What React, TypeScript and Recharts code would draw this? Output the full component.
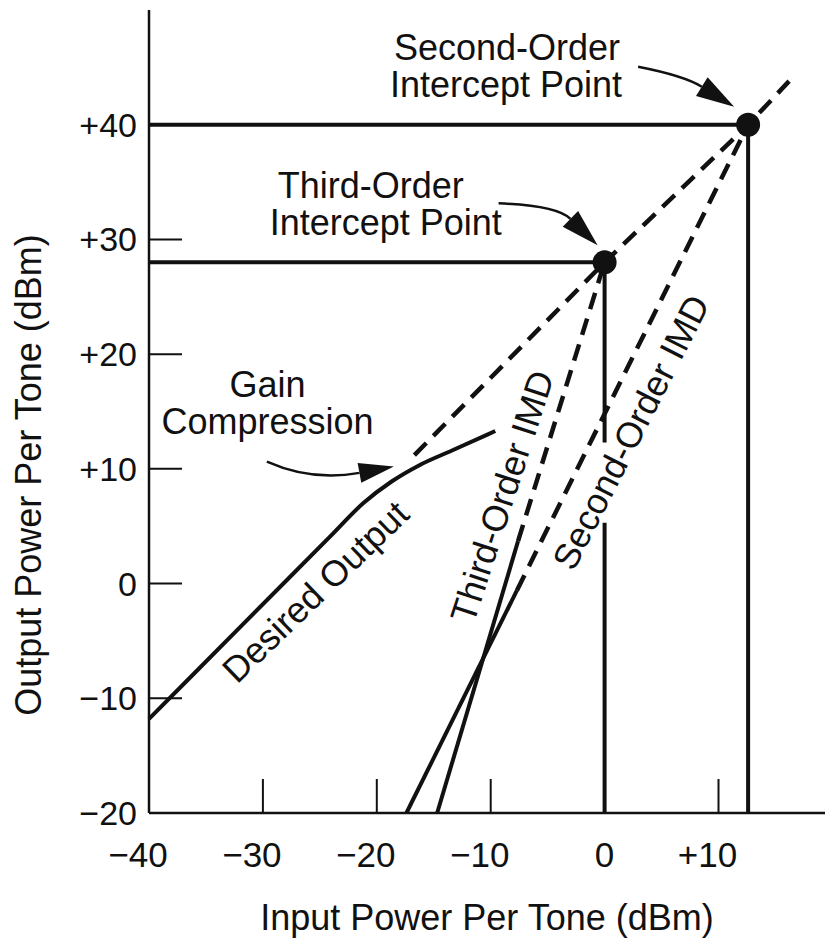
import { ComposedChart, Line, XAxis, YAxis, ReferenceDot } from 'recharts'

const FONT = '"Liberation Sans", Arial, Helvetica, sans-serif'
const INK = '#111'

// axis ticks (dBm)
const xTicks = [-40, -30, -20, -10, 0, 10]
const yTicks = [-20, -10, 0, 10, 20, 30, 40]

// desired output: 1:1 slope, then gain compression above about -20 dBm
const desiredOutput = [
  { x: -40, y: -11.8 },
  { x: -32, y: -3.8 },
  { x: -24, y: 4.2 },
  { x: -21.2, y: 7.0 },
  { x: -18.7, y: 8.9 },
  { x: -16.3, y: 10.3 },
  { x: -13.4, y: 11.6 },
  { x: -9.6, y: 13.3 },
]
const desiredExtrapolated = [
  { x: -16.7, y: 11.2 },
  { x: 0, y: 28 },
  { x: 12.6, y: 40 },
  { x: 16.2, y: 43.8 },
]

const thirdOrderImd = [
  { x: -14.7, y: -20 },
  { x: -7.6, y: 3.7 },
]
const thirdOrderExtrapolated = [
  { x: -7.6, y: 3.7 },
  { x: 0, y: 28 },
]
const secondOrderImd = [
  { x: -17.4, y: -20 },
  { x: -7.7, y: -0.6 },
]
const secondOrderExtrapolated = [
  { x: -7.7, y: -0.6 },
  { x: 12.6, y: 40 },
]

// intercept points (IP3, IP2) and their guide lines
const intercepts = [
  { x: 0, y: 28 },
  { x: 12.6, y: 40 },
]
const ip3Guide = [
  { x: -40, y: 28 },
  { x: 0, y: 28 },
  { x: 0, y: 12.3 },
]
const ip3Drop = [
  { x: 0, y: 5.3 },
  { x: 0, y: -20 },
]
const ip2Guide = [
  { x: -40, y: 40 },
  { x: 12.6, y: 40 },
  { x: 12.6, y: -20 },
]

// annotation text, anchored in data units
const notes = [
  { x: -18.5, y: 45.6, lines: ['Second-Order', 'Intercept Point'], dxs: [0, -4], anchor: 'start' },
  { x: -28.7, y: 33.6, lines: ['Third-Order', 'Intercept Point'], dxs: [0, -8], anchor: 'start' },
  { x: -29.6, y: 16.3, lines: ['Gain', 'Compression'], dxs: [0, 0], anchor: 'middle' },
]
const slantedNotes = [
  { x: -25.4, y: -0.7, text: 'Desired Output', angle: -44 },
  { x: -9.0, y: 7.6, text: 'Third-Order IMD', angle: -72 },
  { x: 2.3, y: 13.2, text: 'Second-Order IMD', angle: -63 },
]
const arrows = [
  { x: 12.6, y: 40, from: [-110, -58], ctrl: [-64, -49], tip: [-14, -18], head: 38 },
  { x: 0, y: 28, from: [-106, -59], ctrl: [-48, -57], tip: [-7, -17], head: 38 },
  { x: -18.5, y: 10.2, from: [-127, -5], ctrl: [-82, 15], tip: [0, 0], head: 35 },
]

const fmt = (v: number) => (v > 0 ? `+${v}` : v < 0 ? `\u2212${-v}` : '0')

function YTick(props: any) {
  const { x, y, payload } = props
  return (
    <g>
      <line x1={x} x2={x + 33} y1={y} y2={y} stroke={INK} strokeWidth={2} />
      <text x={x - 12} y={y + 12} textAnchor="end" fontSize={34} fontFamily={FONT} fill={INK}>
        {fmt(payload.value)}
      </text>
    </g>
  )
}

function XTick(props: any) {
  const { x, y, payload } = props
  const v = payload.value
  return (
    <g>
      <line x1={x} x2={x} y1={y} y2={y - 34} stroke={INK} strokeWidth={2} />
      <text x={x + (v === 0 ? 0 : -11)} y={y + 54} textAnchor="middle" fontSize={35} fontFamily={FONT} fill={INK}>
        {fmt(v)}
      </text>
    </g>
  )
}

const noteShape = (n: (typeof notes)[number]) => (p: any) => (
  <text x={p.cx} y={p.cy} textAnchor={n.anchor as any} fontSize={36} fontFamily={FONT} fill={INK}>
    {n.lines.map((s, i) => (
      <tspan key={s} x={p.cx + n.dxs[i]} dy={i === 0 ? 0 : 37}>
        {s}
      </tspan>
    ))}
  </text>
)

const slantShape = (n: (typeof slantedNotes)[number]) => (p: any) => (
  <text
    x={p.cx}
    y={p.cy}
    dy="0.35em"
    textAnchor="middle"
    transform={`rotate(${n.angle} ${p.cx} ${p.cy})`}
    fontSize={36}
    fontFamily={FONT}
    fill={INK}
  >
    {n.text}
  </text>
)

const arrowShape = (a: (typeof arrows)[number]) => (p: any) => {
  const sx = p.cx + a.from[0]
  const sy = p.cy + a.from[1]
  const qx = p.cx + a.ctrl[0]
  const qy = p.cy + a.ctrl[1]
  const tx = p.cx + a.tip[0]
  const ty = p.cy + a.tip[1]
  const len = Math.hypot(tx - qx, ty - qy)
  const ux = (tx - qx) / len
  const uy = (ty - qy) / len
  const bx = tx - ux * a.head
  const by = ty - uy * a.head
  const w = a.head * 0.29
  const pts = `${tx},${ty} ${bx - uy * w},${by + ux * w} ${bx + uy * w},${by - ux * w}`
  return (
    <g>
      <path d={`M${sx},${sy} Q${qx},${qy} ${bx},${by}`} fill="none" stroke={INK} strokeWidth={2.5} />
      <polygon points={pts} fill={INK} />
    </g>
  )
}

const solid = { stroke: INK, strokeWidth: 4 }
const dashed = { stroke: INK, strokeWidth: 4.5, strokeDasharray: '17 10' }

export default function App() {
  return (
    <div style={{ position: 'absolute', left: 0, top: 0, width: 825, height: 941, background: '#fff' }}>
      <ComposedChart width={825} height={941} margin={{ top: 10, right: 0, bottom: 0, left: 0 }}>
        <XAxis
          type="number"
          dataKey="x"
          domain={[-40, 19.35]}
          ticks={xTicks}
          interval={0}
          height={128}
          tickSize={0}
          tickMargin={0}
          tickLine={false}
          tick={<XTick />}
          axisLine={{ stroke: INK, strokeWidth: 2.5 }}
          label={{
            content: (p: any) => (
              <text
                x={p.viewBox.x + p.viewBox.width / 2}
                y={p.viewBox.y + 117}
                textAnchor="middle"
                fontSize={36}
                fontFamily={FONT}
                fill={INK}
              >
                Input Power Per Tone (dBm)
              </text>
            ),
          }}
        />
        <YAxis
          type="number"
          dataKey="y"
          domain={[-20, 50]}
          ticks={yTicks}
          interval={0}
          width={149}
          tickSize={0}
          tickMargin={0}
          tickLine={false}
          tick={<YTick />}
          axisLine={{ stroke: INK, strokeWidth: 2.5 }}
          label={{
            content: (p: any) => {
              const cx = p.viewBox.x + 28
              const cy = p.viewBox.y + 465
              return (
                <text
                  x={cx}
                  y={cy}
                  dy="0.35em"
                  textAnchor="middle"
                  transform={`rotate(-90 ${cx} ${cy})`}
                  fontSize={36}
                  fontFamily={FONT}
                  fill={INK}
                >
                  Output Power Per Tone (dBm)
                </text>
              )
            },
          }}
        />

        <Line data={ip2Guide} dataKey="y" type="linear" {...solid} dot={false} activeDot={false} isAnimationActive={false} />
        <Line data={ip3Guide} dataKey="y" type="linear" {...solid} dot={false} activeDot={false} isAnimationActive={false} />
        <Line data={ip3Drop} dataKey="y" type="linear" {...solid} dot={false} activeDot={false} isAnimationActive={false} />

        <Line data={desiredOutput} dataKey="y" type="monotone" {...solid} dot={false} activeDot={false} isAnimationActive={false} />
        <Line data={desiredExtrapolated} dataKey="y" type="linear" {...dashed} dot={false} activeDot={false} isAnimationActive={false} />
        <Line data={thirdOrderImd} dataKey="y" type="linear" {...solid} dot={false} activeDot={false} isAnimationActive={false} />
        <Line data={thirdOrderExtrapolated} dataKey="y" type="linear" {...dashed} dot={false} activeDot={false} isAnimationActive={false} />
        <Line data={secondOrderImd} dataKey="y" type="linear" {...solid} dot={false} activeDot={false} isAnimationActive={false} />
        <Line data={secondOrderExtrapolated} dataKey="y" type="linear" {...dashed} dot={false} activeDot={false} isAnimationActive={false} />

        {intercepts.map((pt) => (
          <ReferenceDot key={`ip${pt.x}`} x={pt.x} y={pt.y} r={12} fill={INK} stroke="none" />
        ))}
        {notes.map((n) => (
          <ReferenceDot key={n.lines[0]} x={n.x} y={n.y} r={0} shape={noteShape(n)} />
        ))}
        {slantedNotes.map((n) => (
          <ReferenceDot key={n.text} x={n.x} y={n.y} r={0} shape={slantShape(n)} />
        ))}
        {arrows.map((a, i) => (
          <ReferenceDot key={`arrow${i}`} x={a.x} y={a.y} r={0} shape={arrowShape(a)} />
        ))}
      </ComposedChart>
    </div>
  )
}
